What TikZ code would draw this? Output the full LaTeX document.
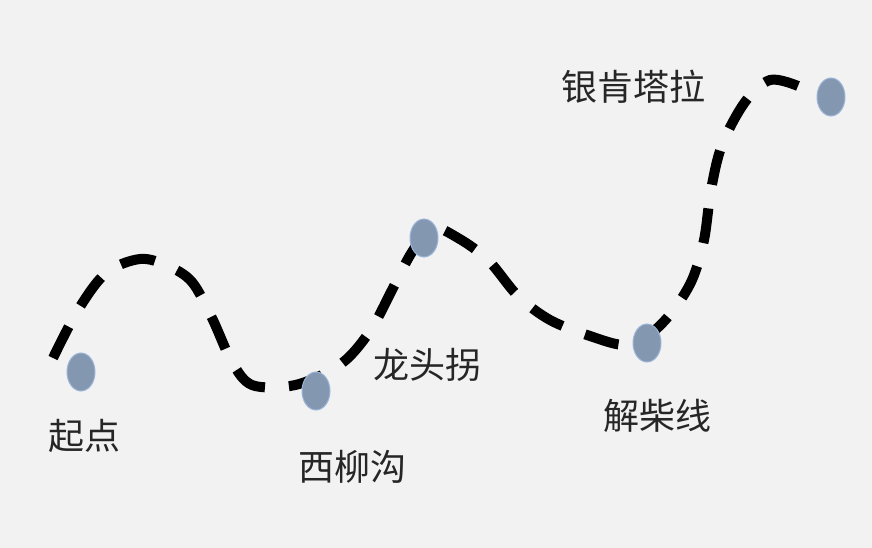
\documentclass[tikz,border=0pt]{standalone}
\usepackage{fontspec}
\newfontfamily\cjk{Noto Sans CJK SC}
\usetikzlibrary{shapes.geometric}
\definecolor{bg}{HTML}{F2F2F2}
\definecolor{stop}{HTML}{8497B0}
\definecolor{stopedge}{HTML}{9DB5D8}
\tikzset{
  stopnode/.style={ellipse,fill=stop,draw=stopedge,line width=1pt,minimum width=28pt,minimum height=38pt,inner sep=0pt},
  lbl/.style={font=\cjk\fontsize{36}{42}\selectfont,text=black!85,inner sep=0pt},
  route/.style={line width=10pt,dash pattern=on 35pt off 24pt,black}
}
\begin{document}
\begin{tikzpicture}[x=1pt,y=-1pt]
\fill[bg] (0,0) rectangle (872,548);
\useasboundingbox (0,0) rectangle (872,548);
\draw[route] plot[smooth,tension=0.55] coordinates {
 (53,358) (78,310) (106,273) (140,259) (168,266) (192,282) (212,318) (232,362) (252,385) (290,386)
 (322,375) (348,358) (372,328) (393,288) (412,252) (432,228) (458,238) (488,260) (518,296) (550,320)
 (590,336) (625,345) (650,334) (672,312) (692,280) (704,240) (711,190) (722,145) (745,102) (770,80) (798,86)};
\node[stopnode] (s0) at (81,372) {};
\node[stopnode] (s1) at (316,391) {};
\node[stopnode] (s2) at (424,238) {};
\node[stopnode] (s3) at (647,343) {};
\node[stopnode] (s4) at (831,97) {};
\node[lbl] (l0) at (84,436) {起点};
\node[lbl] (l1) at (352,467) {西柳沟};
\node[lbl] (l2) at (427,365) {龙头拐};
\node[lbl] (l3) at (657,416) {解柴线};
\node[lbl] (l4) at (633,87) {银肯塔拉};
\end{tikzpicture}
\end{document}
